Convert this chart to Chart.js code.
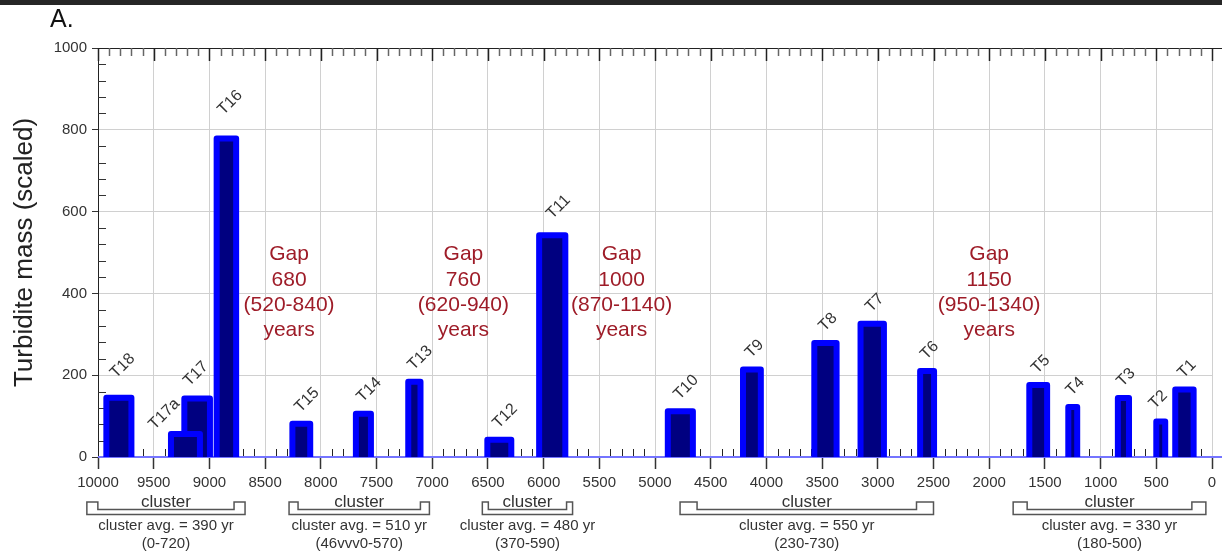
<!DOCTYPE html>
<html>
<head>
<meta charset="utf-8">
<script src="https://cdn.jsdelivr.net/npm/chart.js@4.4.0/dist/chart.umd.min.js"></script>
<style>
    html, body { margin: 0; padding: 0; background: #fff; }
    #wrap { position: relative; width: 1222px; height: 551px; }
</style>
</head>
<body>
<div id="wrap"><canvas id="turbChart" width="1222" height="551"></canvas></div>
<script>
/* ─── Data ───────────────────────────────────── */
// turbidite events (years before present), drawn in this order
const eventNames = ['T18', 'T17', 'T17a', 'T16', 'T15', 'T14', 'T13', 'T12', 'T11', 'T10',
    'T9', 'T8', 'T7', 'T6', 'T5', 'T4', 'T3', 'T2', 'T1'];
const ageStart = [9925, 9225, 9345, 8935, 8255, 7685, 7215, 6505, 6040, 4885,
    4210, 3570, 3155, 2620, 1640, 1290, 845, 500, 330];
const ageEnd = [9700, 8995, 9085, 8760, 8095, 7550, 7105, 6290, 5805, 4660,
    4050, 3370, 2945, 2495, 1480, 1210, 745, 420, 165];
const massValues = [145, 143, 56, 779, 81, 106, 184, 42, 542, 112,
    214, 279, 326, 210, 176, 122, 144, 87, 165];

const gapYears = ['680', '760', '1000', '1150'];
const gapRanges = ['520-840', '620-940', '870-1140', '950-1340'];

const clusterStart = [10100, 8285, 6550, 4775, 1785];
const clusterEnd = [8680, 7025, 5740, 2500, 55];
const clusterAvg = [390, 510, 480, 550, 330];
const clusterRanges = ['0-720', '46vvv0-570', '370-590', '230-730', '180-500'];

const xStep = 500;
const yStep = 200;

const FONT = '"Liberation Sans", Arial, sans-serif';
Chart.defaults.font.family = FONT;

/* ─── Extra drawing: minor ticks, baseline, labels, clusters ─── */
const extrasPlugin = {
    id: 'extras',
    beforeDatasetsDraw(chart) {
        const { ctx, chartArea: a, scales: { x: xs, y: ys } } = chart;
        ctx.save();
        // top axis line + ticks
        ctx.strokeStyle = '#222';
        ctx.lineWidth = 1;
        ctx.beginPath();
        ctx.moveTo(a.left, a.top + 0.5);
        ctx.lineTo(chart.width, a.top + 0.5);
        ctx.stroke();
        for (let v = 0; v <= 10000; v += 100) {
            const px = Math.round(xs.getPixelForValue(v)) + 0.5;
            const major = v % xStep === 0;
            ctx.strokeStyle = major ? '#222' : '#666';
            ctx.lineWidth = 1.5;
            ctx.beginPath();
            ctx.moveTo(px, a.top);
            ctx.lineTo(px, a.top + (major ? 13 : 8));
            ctx.stroke();
            if (!major) {
                ctx.strokeStyle = '#222';
                ctx.lineWidth = 1;
                ctx.beginPath();
                ctx.moveTo(px, a.bottom - 8);
                ctx.lineTo(px, a.bottom);
                ctx.stroke();
            }
        }
        // y minor ticks pointing inward
        ctx.strokeStyle = '#333';
        ctx.lineWidth = 1;
        for (let v = 40; v < 1000; v += 40) {
            if (v % yStep === 0) continue;
            const py = Math.round(ys.getPixelForValue(v)) + 0.5;
            ctx.beginPath();
            ctx.moveTo(a.left, py);
            ctx.lineTo(a.left + 8, py);
            ctx.stroke();
        }
        // baseline
        ctx.strokeStyle = '#7474ff';
        ctx.lineWidth = 2;
        ctx.beginPath();
        ctx.moveTo(a.left, a.bottom);
        ctx.lineTo(chart.width, a.bottom);
        ctx.stroke();
        ctx.restore();
    },
    afterDatasetsDraw(chart) {
        const { ctx, scales: { x: xs, y: ys } } = chart;
        ctx.save();
        // event labels, rotated
        const labelNudge = { T18: [-2, -8], T16: [-2, -12], T17a: [-30, 7], T17: [-7, -1], T11: [1, -5], T2: [-5, -1] };
        ctx.font = '16px ' + FONT;
        ctx.fillStyle = '#333';
        ctx.textAlign = 'left';
        ctx.textBaseline = 'middle';
        eventNames.forEach((name, i) => {
            const xl = xs.getPixelForValue(ageStart[i]);
            const xr = xs.getPixelForValue(ageEnd[i]);
            const top = ys.getPixelForValue(massValues[i]) - 3;
            const n = labelNudge[name] || [0, 0];
            ctx.save();
            ctx.translate((xl + xr) / 2 - 4 + n[0], top - 11 + n[1]);
            ctx.rotate(-Math.PI / 4);
            ctx.fillText(name, 0, 0);
            ctx.restore();
        });
        // gap annotations
        const gapAnchor = [8285, 6720, 5300, 2000];
        ctx.font = '21px ' + FONT;
        ctx.fillStyle = '#9e1c28';
        ctx.textAlign = 'center';
        const y0 = ys.getPixelForValue(495);
        gapYears.forEach((g, i) => {
            const px = xs.getPixelForValue(gapAnchor[i]);
            ['Gap', g, '(' + gapRanges[i] + ')', 'years'].forEach((t, k) => {
                ctx.fillText(t, px, y0 + k * 25.2);
            });
        });
        ctx.restore();
    },
    afterDraw(chart) {
        const { ctx, chartArea: a, scales: { x: xs } } = chart;
        ctx.save();
        // cluster brackets
        const notch = [11, 9, 6, 17, 14];
        const yTop = a.bottom + 45, yNotch = a.bottom + 52.5, yBot = a.bottom + 57.5;
        clusterStart.forEach((s, i) => {
            const L = xs.getPixelForValue(s);
            const R = xs.getPixelForValue(clusterEnd[i]);
            const n = notch[i];
            ctx.strokeStyle = '#555';
            ctx.lineWidth = 1.5;
            ctx.beginPath();
            ctx.moveTo(L, yTop);
            ctx.lineTo(L + n, yTop);
            ctx.lineTo(L + n, yNotch);
            ctx.lineTo(R - n, yNotch);
            ctx.lineTo(R - n, yTop);
            ctx.lineTo(R, yTop);
            ctx.lineTo(R, yBot);
            ctx.lineTo(L, yBot);
            ctx.closePath();
            ctx.stroke();

            const cx = (L + R) / 2;
            ctx.fillStyle = '#333';
            ctx.textAlign = 'center';
            ctx.textBaseline = 'alphabetic';
            ctx.font = '17px ' + FONT;
            ctx.fillText('cluster', cx, a.bottom + 49.5);
            ctx.font = '15px ' + FONT;
            ctx.fillText('cluster avg. = ' + clusterAvg[i] + ' yr', cx, a.bottom + 73);
            ctx.fillText('(' + clusterRanges[i] + ')', cx, a.bottom + 90.5);
        });
        // panel letter + top strip
        ctx.fillStyle = '#262626';
        ctx.fillRect(0, 0, chart.width, 5);
        ctx.fillStyle = '#111';
        ctx.textAlign = 'left';
        ctx.font = '25px ' + FONT;
        ctx.fillText('A.', 50, 27);
        ctx.restore();
    }
};

/* ─── Datasets: one outlined block per event ─── */
const datasets = eventNames.map((name, i) => ({
    label: name,
    data: [
        { x: ageStart[i], y: 0 },
        { x: ageStart[i], y: massValues[i] },
        { x: ageEnd[i], y: massValues[i] },
        { x: ageEnd[i], y: 0 }
    ],
    borderColor: '#0000ff',
    backgroundColor: '#000080',
    borderWidth: 6,
    borderJoinStyle: 'round',
    borderCapStyle: 'round',
    fill: 'origin',
    pointRadius: 0,
    tension: 0,
    order: -i
}));

new Chart(document.getElementById('turbChart').getContext('2d'), {
    type: 'line',
    data: { datasets },
    options: {
        responsive: false,
        animation: false,
        devicePixelRatio: 1,
        layout: { padding: { top: 48, right: 10, left: 0, bottom: 0 } },
        plugins: { legend: { display: false }, tooltip: { enabled: false } },
        scales: {
            x: {
                type: 'linear',
                min: 0,
                max: 10000,
                reverse: true,
                ticks: {
                    stepSize: xStep, autoSkip: false, maxRotation: 0, color: '#333',
                    font: { size: 15 }, padding: 5,
                    callback: v => String(v)
                },
                grid: { color: '#d0d0d0', tickLength: 12, tickColor: '#333', tickWidth: 1.5 },
                border: { display: false },
                afterFit: s => { s.height = 94; }
            },
            y: {
                min: 0,
                max: 1000,
                ticks: { stepSize: yStep, color: '#333', font: { size: 15 }, padding: 5, callback: v => String(v) },
                grid: { color: '#d0d0d0', tickLength: 6, tickColor: '#333' },
                border: { display: true, color: '#222', width: 1 },
                title: {
                    display: true,
                    text: 'Turbidite mass (scaled)',
                    color: '#222',
                    font: { size: 26 },
                    padding: { top: 9, bottom: 0 }
                },
                afterFit: s => { s.width = 98; }
            }
        }
    },
    plugins: [extrasPlugin]
});
</script>
</body>
</html>
